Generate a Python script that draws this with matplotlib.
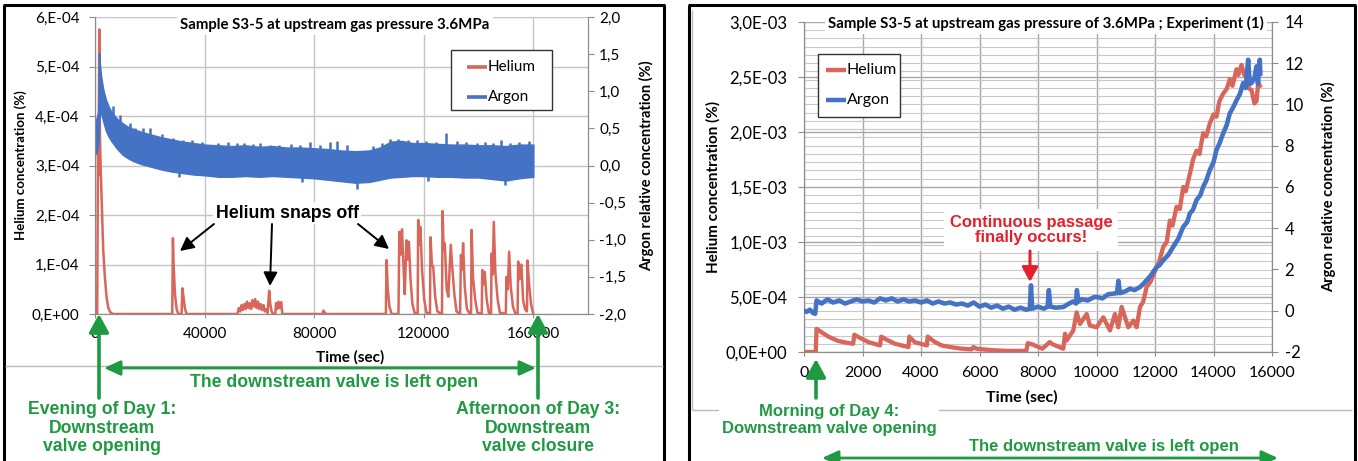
import matplotlib
matplotlib.use('Agg')
import matplotlib.pyplot as plt
from matplotlib.lines import Line2D
from matplotlib.patches import FancyArrowPatch, Rectangle
import numpy as np

W, H = 1358, 461

# ---------------- Left chart data (Sample S3-5, Day 1 -> Day 3) ----------------
left_x_ticks = [0, 40000, 80000, 120000, 160000]
left_y_ticks = [0, 1e-4, 2e-4, 3e-4, 4e-4, 5e-4, 6e-4]
left_y_labels = ['0,E+00', '1,E-04', '2,E-04', '3,E-04', '4,E-04', '5,E-04', '6,E-04']
left_y2_ticks = [-2.0, -1.5, -1.0, -0.5, 0.0, 0.5, 1.0, 1.5, 2.0]
left_y2_labels = ['-2,0', '-1,5', '-1,0', '-0,5', '0,0', '0,5', '1,0', '1,5', '2,0']
series_names = ['Helium', 'Argon']

# Helium concentration (units of 1E-04 %)
helium_left_t = [0, 800, 1100, 1300, 1550, 1800, 2100, 2500, 3000, 3600, 4200, 4800, 5500, 6500,
                 28200, 28450, 28700, 29200, 29800, 30400,
                 31600, 31900, 32300, 32800, 33400,
                 52000, 52500, 53000, 53500, 54000, 54500, 55000, 55500, 56000, 56500, 57000, 57500,
                 58000, 58500, 59000, 59500, 60000, 60500, 61000, 61500, 62000, 62500, 63000, 63600,
                 64000, 64500, 65000, 65800, 66100, 66500, 67000, 67500, 68000, 68400,
                 83000, 83400, 84000, 84500,
                 106200, 106450, 106900, 107500, 108300,
                 110800, 111100, 111600, 112100, 112600, 113100, 113700, 114100, 114600, 115200, 115900, 116700,
                 117800, 118000, 118400, 118800, 119400, 120200, 121000,
                 122300, 122500, 123000, 123500, 124200, 125000,
                 126700, 126900, 127300, 127700, 128400, 129000, 129900, 130500, 131200, 132000,
                 133300, 133600, 134000, 134400, 135000, 135800, 136600,
                 137300, 137500, 138000, 138800, 139600,
                 141200, 141400, 141900, 142300, 143000, 143800,
                 144600, 144800, 145200, 145600, 146200, 147000, 147800,
                 150000, 150200, 150700, 151200, 151800, 152600, 153400,
                 154300, 154500, 155000, 155700, 156300, 157000, 157700, 157900, 158500, 159200, 160000]
helium_left_v = [0, 0, 3.3, 2.8, 5.75, 3.6, 2.9, 2.2, 1.3, 0.75, 0.35, 0.14, 0.04, 0,
                 0, 1.53, 1.0, 0.4, 0.1, 0,
                 0, 0.52, 0.35, 0.12, 0,
                 0, 0.12, 0.05, 0.18, 0.08, 0.2, 0.1, 0.25, 0.12, 0.22, 0.1, 0.28,
                 0.15, 0.3, 0.12, 0.25, 0.1, 0.2, 0.08, 0.18, 0.05, 0.1, 0.02, 0.47,
                 0.2, 0.05, 0, 0, 0.22, 0.1, 0.25, 0.12, 0.24, 0,
                 0, 0.07, 0.02, 0,
                 0, 1.09, 0.5, 0.15, 0,
                 0, 1.66, 1.2, 1.71, 1.0, 0.4, 1.49, 1.1, 1.46, 0.7, 0.2, 0.02,
                 0, 1.90, 1.4, 1.76, 0.9, 0.3, 0.03,
                 0, 1.55, 1.0, 0.95, 0.35, 0.05,
                 0, 2.08, 1.3, 1.43, 0.5, 0.35, 1.4, 0.9, 0.4, 0.05,
                 0, 1.19, 0.9, 1.43, 0.55, 0.1, 0.02,
                 0, 1.70, 0.75, 0.3, 0.03,
                 0, 0.89, 0.6, 0.85, 0.3, 0.02,
                 0, 1.22, 0.8, 1.86, 0.82, 0.3, 0.03,
                 0, 0.75, 0.5, 1.26, 0.55, 0.15, 0.02,
                 0, 1.06, 0.7, 1.0, 0.28, 0.1, 0.05, 1.08, 0.6, 0.2, 0]

# Argon relative concentration (%): noisy band read as upper / lower envelope
argon_left_t = [0, 400, 800, 1200, 1500, 1800, 2200, 3000, 4000, 5000, 6000, 8000, 10000, 12000,
                14000, 17000, 20000, 24000, 28000, 32000, 36000, 40000, 45000, 50000, 55000,
                60000, 65000, 70000, 75000, 80000, 85000, 90000, 95000, 100000, 104000, 108000,
                112000, 116000, 120000, 125000, 130000, 135000, 140000, 145000, 150000, 155000, 160000]
argon_left_hi = [0.62, 0.60, 0.66, 0.72, 1.52, 1.35, 1.20, 1.02, 0.88, 0.79, 0.72, 0.63, 0.57, 0.52,
                 0.49, 0.45, 0.42, 0.38, 0.35, 0.32, 0.30, 0.28, 0.27, 0.26, 0.27,
                 0.25, 0.26, 0.24, 0.24, 0.23, 0.22, 0.20, 0.19, 0.20, 0.24, 0.32,
                 0.33, 0.30, 0.30, 0.29, 0.28, 0.28, 0.27, 0.27, 0.26, 0.28, 0.28]
argon_left_lo = [0.20, 0.16, 0.23, 0.30, 0.58, 0.70, 0.72, 0.60, 0.47, 0.39, 0.33, 0.23, 0.15, 0.10,
                 0.06, 0.02, -0.01, -0.05, -0.08, -0.10, -0.12, -0.13, -0.15, -0.15, -0.14,
                 -0.15, -0.14, -0.15, -0.16, -0.17, -0.19, -0.21, -0.23, -0.22, -0.19, -0.16,
                 -0.15, -0.14, -0.14, -0.15, -0.15, -0.16, -0.16, -0.18, -0.20, -0.17, -0.15]
# isolated spikes sticking out of the band: time, tip value, value inside the band
argon_left_spike_t = [6500, 9000, 12800, 14600, 17500, 20100, 24500, 28600, 32000, 35300, 39000,
                      45000, 48500, 51700, 54500, 57800, 60200, 63900, 67000, 71500, 74800,
                      78500, 82000, 85800, 88500, 92000, 101500, 104800, 107700, 110700, 114400,
                      117400, 121000, 124500, 128000, 132000, 135500, 139300, 142500, 145200,
                      148300, 151400, 154800, 158300,
                      95700, 149600, 30500, 75500, 121500]
argon_left_spike_v = [0.80, 0.68, 0.57, 0.50, 0.50, 0.50, 0.42, 0.37, 0.35, 0.34, 0.32,
                      0.30, 0.32, 0.30, 0.30, 0.29, 0.30, 0.28, 0.28, 0.29, 0.27,
                      0.32, 0.28, 0.32, 0.33, 0.27, 0.26, 0.30, 0.36, 0.36, 0.35,
                      0.34, 0.33, 0.32, 0.44, 0.33, 0.32, 0.30, 0.31, 0.30,
                      0.35, 0.30, 0.32, 0.33,
                      -0.31, -0.26, -0.16, -0.22, -0.21]
argon_left_spike_base = [0.50, 0.40, 0.30, 0.25, 0.20, 0.15, 0.12, 0.10, 0.08, 0.06, 0.05,
                         0.05, 0.05, 0.05, 0.05, 0.05, 0.05, 0.05, 0.05, 0.05, 0.05,
                         0.05, 0.05, 0.05, 0.02, 0.02, 0.02, 0.05, 0.05, 0.05, 0.05,
                         0.05, 0.05, 0.05, 0.05, 0.05, 0.05, 0.05, 0.05, 0.05,
                         0.05, 0.05, 0.05, 0.05,
                         0.0, 0.0, 0.0, 0.0, 0.0]

# ---------------- Right chart data (Experiment (1), Day 4) ----------------
right_x_ticks = [0, 2000, 4000, 6000, 8000, 10000, 12000, 14000, 16000]
right_y_ticks = [0, 5e-4, 1e-3, 1.5e-3, 2e-3, 2.5e-3, 3e-3]
right_y_labels = ['0,0E+00', '5,0E-04', '1,0E-03', '1,5E-03', '2,0E-03', '2,5E-03', '3,0E-03']
right_y2_ticks = [-2, 0, 2, 4, 6, 8, 10, 12, 14]
right_y2_labels = ['-2', '0', '2', '4', '6', '8', '10', '12', '14']

# Helium concentration (units of 1E-04 %)
helium_right_t = [0, 400, 430, 600, 830, 1170, 1450, 1680, 1720, 1900, 2200, 2600, 2640, 2800, 3110,
                  3570, 3600, 3780, 4200, 4230, 4450, 4700, 5000, 5390, 5730, 5790, 5900, 6500, 7000,
                  7600, 7650, 7800, 8150, 8400, 8500, 8866, 8923, 8980, 9207, 9321, 9435, 9663, 9777,
                  10004, 10232, 10460, 10631, 10745, 10859, 11087, 11258, 11372, 11486, 11600, 11713,
                  11850, 12055, 12150, 12282, 12400, 12510, 12600, 12737, 12850, 12965, 13050, 13192,
                  13300, 13420, 13520, 13648, 13750, 13876, 14000, 14103, 14200, 14331, 14450, 14559,
                  14650, 14786, 14850, 14957, 15050, 15128, 15200, 15299, 15400, 15470, 15530, 15583]
helium_right_v = [0, 0, 2.1, 1.8, 1.4, 1.0, 0.85, 0.75, 1.57, 1.3, 0.9, 0.6, 1.4, 1.15, 0.75,
                  0.45, 1.4, 0.9, 0.6, 1.4, 0.95, 0.6, 0.45, 0.3, 0.24, 0.45, 0.3, 0.15, 0.1,
                  0.1, 0.8, 0.7, 0.3, 0.9, 0.7, 0.3, 1.66, 1.05, 1.96, 3.6, 2.55, 3.45, 2.4,
                  2.25, 3.15, 1.96, 3.45, 2.25, 4.1, 2.25, 2.85, 2.25, 4.08, 4.6, 5.9,
                  6.4, 7.7, 8.3, 9.55, 10.0, 11.95, 11.5, 13.2, 13.0, 15.0, 14.6, 16.2,
                  17.5, 18.3, 18.0, 19.9, 19.6, 20.8, 21.6, 21.4, 22.8, 23.5, 23.9, 24.8,
                  24.2, 25.7, 25.2, 26.1, 25.2, 25.0, 24.0, 23.8, 22.6, 22.8, 24.5, 24.2]

# Argon relative concentration (%)
argon_right_t = [0, 100, 200, 300, 380, 430, 600, 800, 1000, 1200, 1400, 1600, 1800, 2000, 2200,
                 2400, 2600, 2800, 3000, 3200, 3400, 3600, 3800, 4000, 4200, 4400, 4600, 4800, 5000,
                 5200, 5400, 5600, 5800, 6000, 6200, 6400, 6600, 6800, 7000, 7200, 7400, 7600, 7720,
                 7760, 7800, 8000, 8200, 8330, 8370, 8420, 8600, 8866, 9000, 9200, 9300, 9330, 9380,
                 9500, 9700, 9900, 10004, 10200, 10400, 10574, 10700, 10750, 10800, 11000, 11144,
                 11300, 11486, 11600, 11713, 11850, 12055, 12150, 12282, 12450, 12623, 12800, 12965,
                 13100, 13192, 13300, 13420, 13550, 13648, 13750, 13876, 14000, 14103, 14200, 14331,
                 14450, 14559, 14650, 14786, 14900, 15014, 15100, 15185, 15240, 15299, 15400, 15470,
                 15520, 15583, 15600]
argon_right_v = [0.0, -0.05, 0.05, -0.1, -0.15, 0.5, 0.35, 0.55, 0.4, 0.5, 0.35, 0.45, 0.55, 0.45, 0.5,
                 0.4, 0.6, 0.5, 0.6, 0.45, 0.55, 0.45, 0.5, 0.4, 0.5, 0.35, 0.45, 0.35, 0.4,
                 0.3, 0.35, 0.25, 0.4, 0.2, 0.3, 0.15, 0.25, 0.1, 0.2, 0.05, 0.15, 0.05, 0.1,
                 1.23, 0.1, 0.2, 0.1, 0.2, 1.0, 0.2, 0.15, 0.18, 0.3, 0.45, 0.35, 1.0, 0.45,
                 0.55, 0.5, 0.65, 0.67, 0.6, 0.8, 0.83, 0.85, 1.45, 0.85, 0.95, 1.07,
                 1.0, 1.15, 1.3, 1.48, 1.7, 2.12, 2.2, 2.45, 2.7, 3.1, 3.5, 4.07,
                 4.3, 4.72, 4.9, 5.37, 5.6, 6.01, 6.3, 6.83, 7.2, 7.8, 8.1, 8.6,
                 9.0, 9.58, 9.8, 10.2, 10.5, 11.04, 10.8, 12.17, 11.0, 11.04, 11.3, 11.85,
                 11.0, 12.17, 11.5]

RED = '#D9665B'
BLUE = '#4472C4'
GREEN = '#1F9A42'
GRID = '#C4C4C4'
SPINE = '#8C8C8C'

plt.rcParams['font.family'] = ['Lato', 'DejaVu Sans']
ARIAL = ['Liberation Sans', 'DejaVu Sans']

fig = plt.figure(figsize=(W / 100, H / 100), dpi=100)
fig.patch.set_facecolor('white')


def fx(x):
    return x / W


def fy(y):
    return 1 - y / H


def style_axes(ax, ax2):
    ax.spines['top'].set_visible(False)
    ax2.spines['top'].set_visible(False)
    for s in ['left', 'bottom', 'right']:
        ax.spines[s].set_color(SPINE)
        ax2.spines[s].set_color(SPINE)
    ax.set_axisbelow(True)
    ax.patch.set_alpha(0)
    ax2.patch.set_alpha(0)


def legend_box(x0, y0, x1, y1, lx0, lx1, tx, ys, lw, fs):
    fig.add_artist(Rectangle((fx(x0), fy(y1)), (x1 - x0) / W, (y1 - y0) / H, transform=fig.transFigure,
                             fc='white', ec='#333333', lw=1.0, zorder=6))
    for name, col, yy in zip(series_names, [RED, BLUE], ys):
        fig.add_artist(Line2D([fx(lx0), fx(lx1)], [fy(yy), fy(yy)], transform=fig.transFigure,
                              color=col, lw=lw, zorder=7, solid_capstyle='butt'))
        fig.text(fx(tx), fy(yy), name, ha='left', va='center', fontsize=fs, zorder=7)


# ======================= LEFT CHART =======================
axL = fig.add_axes([fx(95), fy(314), (588 - 95) / W, (314 - 17) / H])
axL2 = axL.twinx()
style_axes(axL, axL2)

axL.plot(helium_left_t, np.array(helium_left_v) * 1e-4, color=RED, lw=1.8, zorder=2)
axL.set_xlim(0, 180000)
axL.set_ylim(0, 6e-4)
axL.set_xticks(left_x_ticks)
axL.set_xticklabels([str(v) for v in left_x_ticks])
axL.set_yticks(left_y_ticks)
axL.set_yticklabels(left_y_labels)
axL.grid(True, color=GRID, lw=1.0)
axL.tick_params(axis='y', direction='out', length=4, color=SPINE, labelsize=11, pad=7)
axL.tick_params(axis='x', direction='out', length=3, color=SPINE, labelsize=11, pad=6)

axL2.fill_between(argon_left_t, argon_left_lo, argon_left_hi, color=BLUE, lw=1.2, edgecolor=BLUE)
axL2.vlines(argon_left_spike_t, argon_left_spike_base, argon_left_spike_v, color=BLUE, lw=1.8)
axL2.set_ylim(-2, 2)
axL2.set_yticks(left_y2_ticks)
axL2.set_yticklabels(left_y2_labels)
axL2.tick_params(axis='y', direction='out', length=4, color=SPINE, labelsize=11, pad=4)

axL.set_ylabel('Helium concentration (%)', fontsize=9.5, fontweight='bold', va='center', ha='center')
axL.yaxis.set_label_coords((21 - 95) / 493, 0.5)
axL2.set_ylabel('Argon relative concentration (%)', fontsize=10.5, fontweight='bold', va='center', ha='center')
axL2.yaxis.set_label_coords((647 - 95) / 493, 0.5)
axL.set_xlabel('Time (sec)', fontsize=11, fontweight='bold', va='center')
axL.xaxis.set_label_coords((350 - 95) / 493, (314 - 357) / 297)

legend_box(451, 50, 552, 110, 467, 487, 488, [67, 97], 2.6, 11)

# ======================= RIGHT CHART =======================
axR = fig.add_axes([fx(804), fy(352), (1272 - 804) / W, (352 - 22) / H])
axR2 = axR.twinx()
style_axes(axR, axR2)

axR.plot(helium_right_t, np.array(helium_right_v) * 1e-4, color=RED, lw=3.1, zorder=2)
axR.set_xlim(0, 16000)
axR.set_ylim(0, 3e-3)
axR.set_xticks(right_x_ticks)
axR.set_xticklabels([str(v) for v in right_x_ticks])
axR.set_yticks(right_y_ticks)
axR.set_yticklabels(right_y_labels)
axR.set_yticks(np.arange(0, 3e-3 + 1e-9, 7.5e-5), minor=True)
axR.grid(True, which='major', color='#A8A8A8', lw=1.0)
axR.grid(True, which='minor', axis='y', color='#C8C8C8', lw=0.8)
axR.tick_params(axis='y', which='minor', length=0)
axR.tick_params(axis='y', direction='out', length=4, color=SPINE, labelsize=12, pad=8)
axR.tick_params(axis='x', direction='out', length=3, color=SPINE, labelsize=11.5, pad=7)

axR2.plot(argon_right_t, argon_right_v, color=BLUE, lw=3.3, zorder=3)
axR2.set_ylim(-2, 14)
axR2.set_yticks(right_y2_ticks)
axR2.set_yticklabels(right_y2_labels)
axR2.tick_params(axis='y', direction='out', length=4, color=SPINE, labelsize=12, pad=5)

axR.set_ylabel('Helium concentration (%)', fontsize=11, fontweight='bold', va='center', ha='center')
axR.yaxis.set_label_coords((713 - 804) / 468, 0.5)
axR2.set_ylabel('Argon relative concentration (%)', fontsize=10.5, fontweight='bold', va='center', ha='center')
axR2.yaxis.set_label_coords((1329 - 804) / 468, 0.5)
axR.set_xlabel('Time (sec)', fontsize=11.5, fontweight='bold', va='center')
axR.xaxis.set_label_coords((1022 - 804) / 468, (352 - 397) / 330)

legend_box(818, 54, 900, 117, 826, 846, 847, [70, 100], 3.2, 11.5)

# ======================= Titles =======================
fig.text(fx(335), fy(25), 'Sample S3-5 at upstream gas pressure 3.6MPa', ha='center', va='center',
         fontsize=10.8, fontweight='bold', bbox=dict(fc='white', ec='none', pad=2.5))
fig.text(fx(1046), fy(23), 'Sample S3-5 at upstream gas pressure of 3.6MPa ; Experiment (1)',
         ha='center', va='center', fontsize=10.8, fontweight='bold', bbox=dict(fc='white', ec='none', pad=2.5))


# ======================= Frames =======================
def fline(x0, y0, x1, y1, color, lw, z=1):
    fig.add_artist(Line2D([fx(x0), fx(x1)], [fy(y0), fy(y1)], transform=fig.transFigure,
                          color=color, lw=lw, zorder=z, solid_capstyle='butt'))


fline(4, 5, 4, 461, 'black', 2.2)
fline(3, 5, 665, 5, 'black', 2.2)
fline(664, 5, 664, 461, 'black', 2.2)
fline(5, 366, 663, 366, '#BBBBBB', 1.0)

fline(689, 5, 689, 461, 'black', 2.2)
fline(688, 5, 1356, 5, 'black', 2.2)
fline(1355, 5, 1355, 461, 'black', 2.2)
fline(692, 10, 692, 410, '#BBBBBB', 1.0)
fline(692, 410, 1352, 410, '#BBBBBB', 1.0)


def farrow(x0, y0, x1, y1, color, lw, style, scale):
    fig.add_artist(FancyArrowPatch((fx(x0), fy(y0)), (fx(x1), fy(y1)), transform=fig.transFigure,
                                   arrowstyle=style, mutation_scale=scale, color=color, lw=lw,
                                   shrinkA=0, shrinkB=0, zorder=5))


# ======================= Left annotations =======================
fig.text(fx(287), fy(213), 'Helium snaps off', ha='center', va='center', fontsize=12.8,
         fontweight='bold', family=ARIAL, color='black', bbox=dict(fc='white', ec='none', pad=1.5))
farrow(214, 224, 180, 251, 'black', 1.4, '-|>,head_length=0.55,head_width=0.28', 15)
farrow(272, 224, 270, 286, 'black', 1.4, '-|>,head_length=0.55,head_width=0.28', 15)
farrow(358, 224, 389, 249, 'black', 1.4, '-|>,head_length=0.55,head_width=0.28', 15)

farrow(99, 398, 99, 314, GREEN, 2.6, '-|>,head_length=0.55,head_width=0.3', 20)
farrow(538, 398, 538, 314, GREEN, 2.6, '-|>,head_length=0.55,head_width=0.3', 20)
farrow(104, 368, 536, 368, GREEN, 2.0, '<|-|>,head_length=0.55,head_width=0.25', 18)
fig.text(fx(334), fy(382), 'The downstream valve is left open', ha='center', va='center',
         fontsize=12.7, fontweight='bold', family=ARIAL, color=GREEN)
fig.text(fx(102), fy(428), 'Evening of Day 1:\nDownstream\nvalve opening', ha='center', va='center',
         fontsize=12.7, fontweight='bold', family=ARIAL, color=GREEN, linespacing=1.1)
fig.text(fx(538), fy(428), 'Afternoon of Day 3:\nDownstream\nvalve closure', ha='center', va='center',
         fontsize=12.7, fontweight='bold', family=ARIAL, color=GREEN, linespacing=1.1)

# ======================= Right annotations =======================
fig.text(fx(1031), fy(230), 'Continuous passage\nfinally occurs!', ha='center', va='center',
         fontsize=12, fontweight='bold', family=ARIAL, color='#E3202B', linespacing=1.05,
         bbox=dict(fc='white', ec='none', pad=4))
farrow(1030, 251, 1030, 282, '#E3202B', 2.2, '-|>,head_length=0.55,head_width=0.3', 16)

farrow(816, 398, 816, 359, GREEN, 2.6, '-|>,head_length=0.55,head_width=0.3', 20)
fig.text(fx(829), fy(420), 'Morning of Day 4:\nDownstream valve opening', ha='center', va='center',
         fontsize=12, fontweight='bold', family=ARIAL, color=GREEN, linespacing=1.1,
         bbox=dict(fc='white', ec='none', pad=2))
fig.text(fx(1104), fy(446), 'The downstream valve is left open', ha='center', va='center',
         fontsize=12, fontweight='bold', family=ARIAL, color=GREEN)
farrow(822, 458, 1278, 458, GREEN, 2.0, '<|-|>,head_length=0.55,head_width=0.25', 18)

fig.savefig('out.png', dpi=100, facecolor='white')
